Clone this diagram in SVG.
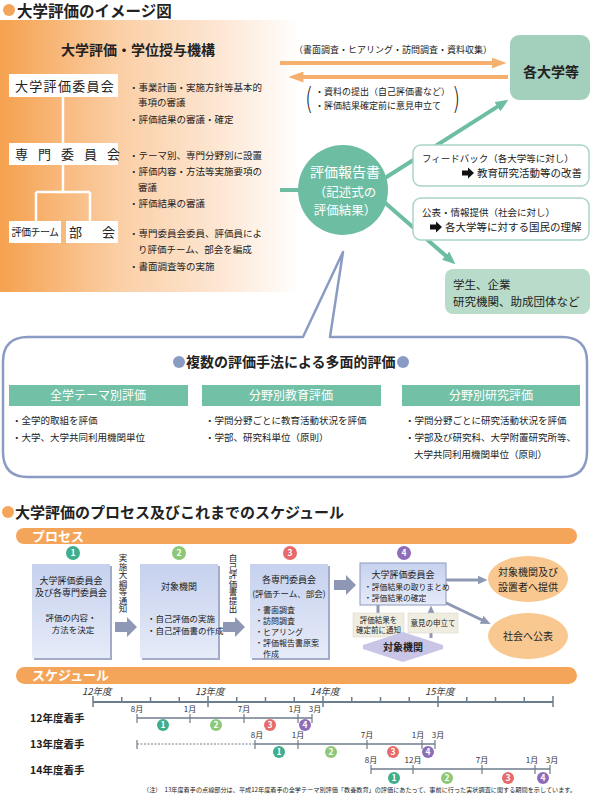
<svg xmlns="http://www.w3.org/2000/svg" width="590" height="798" viewBox="0 0 590 798">
<defs>
<style>
text{font-family:"Noto Sans CJK JP","Noto Sans CJK SC",sans-serif;fill:#222}
.b{font-weight:bold}
.t9{font-size:9.5px}
.w{fill:#fff}
.mid{text-anchor:middle}
.wbox{fill:#fff}
.fb{fill:#fff;stroke:#a9d5c2;stroke-width:1.5}
.teal{stroke:#6dbda2;stroke-width:4;fill:none}
.oarr{stroke:#f5b06e;stroke-width:4;fill:none}
.garr{stroke:#8e98b4;stroke-width:3;fill:none}
.pbox{fill:url(#bg)}
.shd{fill:#a2abc8}
.ax{stroke:#6e7d8c;fill:none}
.ps{font-size:8.5px}
.mo{font-size:8px;text-anchor:middle;fill:#333}
.yr{font-size:9.5px;font-style:italic;fill:#333}
.num{font-size:8.5px;font-weight:bold;fill:#fff;text-anchor:middle}
.c1{fill:#3fae8c}.c2{fill:#8cc878}.c3{fill:#e86a6a}.c4{fill:#8e6cb8}
.bar{fill:#72c0a6}
.beige{fill:#efece0;stroke:#d8d4c4;stroke-width:0.5}
.vt{font-size:8.5px;writing-mode:vertical-rl;text-orientation:upright}
</style>
<linearGradient id="og" x1="0" y1="0" x2="1" y2="0">
<stop offset="0" stop-color="#f5a14f"/>
<stop offset="0.4" stop-color="#fbcfa6"/>
<stop offset="0.75" stop-color="#fde8d6"/>
<stop offset="1" stop-color="#ffffff"/>
</linearGradient>
<linearGradient id="bg" x1="0" y1="0" x2="0" y2="1">
<stop offset="0" stop-color="#c6d1ee"/>
<stop offset="1" stop-color="#e6ebf8"/>
</linearGradient>
<marker id="mo" markerWidth="15" markerHeight="11" refX="0.5" refY="5.5" orient="auto" markerUnits="userSpaceOnUse"><path d="M0,0 L15,5.5 L0,11 z" fill="#f5b06e"/></marker>
<marker id="mt" markerWidth="13" markerHeight="11" refX="0.5" refY="5.5" orient="auto" markerUnits="userSpaceOnUse"><path d="M0,0 L13,5.5 L0,11 z" fill="#6dbda2"/></marker>
<marker id="mg" markerWidth="10" markerHeight="9" refX="0.5" refY="4.5" orient="auto" markerUnits="userSpaceOnUse"><path d="M0,0 L10,4.5 L0,9 z" fill="#8e98b4"/></marker>
<path id="barr" d="M0,-2.5 L6,-2.5 L6,-5.5 L12,0 L6,5.5 L6,2.5 L0,2.5 Z" fill="#111"/>
<path id="blk" d="M0,-5 L12,-5 L12,-10 L22,0 L12,10 L12,5 L0,5 Z" fill="#8e98b4"/>
</defs>

<rect width="590" height="798" fill="#fff"/>

<g id="title1">
<circle cx="9" cy="10" r="6" fill="#f5a55a"/>
<text x="17" y="17" class="b" font-size="15.5">大学評価のイメージ図</text>
</g>

<g id="panel">
<rect x="0" y="20" width="300" height="272" fill="url(#og)"/>
<text x="138" y="55" class="b mid" font-size="14">大学評価・学位授与機構</text>
</g>

<g id="org-lines" stroke="#fff" stroke-width="2.5" fill="none">
<path d="M63,97 V143 M63,165 V192 M36,192 H90 M36,192 V221 M90,192 V221"/>
</g>

<g id="n-iinkai">
<rect x="9" y="74" width="109" height="23" class="wbox"/>
<text x="15" y="91" font-size="13" letter-spacing="1.3">大学評価委員会</text>
</g>
<g id="n-senmon">
<rect x="9" y="143" width="109" height="22" class="wbox"/>
<text x="15" y="159" font-size="13" letter-spacing="10">専門委員会</text>
</g>
<g id="n-team">
<rect x="9" y="221" width="52" height="22" class="wbox"/>
<text x="35" y="236" font-size="10" class="mid" letter-spacing="-0.5">評価チーム</text>
</g>
<g id="n-bukai">
<rect x="66" y="221" width="52" height="22" class="wbox"/>
<text x="69" y="237" font-size="13">部</text>
<text x="102" y="237" font-size="13">会</text>
</g>

<g id="org-text">
<text x="129" y="91" class="t9">・事業計画・実施方針等基本的</text>
<text x="138" y="106" class="t9">事項の審議</text>
<text x="129" y="123" class="t9">・評価結果の審議・確定</text>
<text x="129" y="159" class="t9">・テーマ別、専門分野別に設置</text>
<text x="129" y="175" class="t9">・評価内容・方法等実施要項の</text>
<text x="138" y="191" class="t9">審議</text>
<text x="129" y="207" class="t9">・評価結果の審議</text>
<text x="129" y="237" class="t9">・専門委員会委員、評価員によ</text>
<text x="138" y="253" class="t9">り評価チーム、部会を編成</text>
<text x="129" y="270" class="t9">・書面調査等の実施</text>
</g>

<g id="connectors-top">
<line x1="280" y1="63" x2="492" y2="63" class="oarr" marker-end="url(#mo)"/>
<line x1="508" y1="77" x2="303" y2="77" class="oarr" marker-end="url(#mo)"/>
<line x1="280" y1="190" x2="305" y2="190" class="teal"/>
<line x1="385" y1="178" x2="497.9" y2="106.4" class="teal" marker-end="url(#mt)"/>
<line x1="383" y1="201" x2="446" y2="256" class="teal" marker-end="url(#mt)"/>
</g>

<g id="arrow-labels">
<text x="393" y="53" font-size="9" class="mid">（書面調査・ヒアリング・訪問調査・資料収集）</text>
<text x="305" y="109" font-size="30" style="font-family:'DejaVu Sans',sans-serif;font-weight:200" fill="#444" transform="translate(305,109) scale(0.7,1) translate(-305,-109)">(</text>
<text x="315" y="95" font-size="9">・資料の提出（自己評価書など）</text>
<text x="315" y="109" font-size="9">・評価結果確定前に意見申立て</text>
<text x="452" y="109" font-size="30" style="font-family:'DejaVu Sans',sans-serif;font-weight:200" fill="#444" transform="translate(452,109) scale(0.7,1) translate(-452,-109)">)</text>
</g>

<g id="n-kakudaigaku">
<rect x="510" y="35" width="80" height="65" rx="9" fill="#a3d0bc"/>
<text x="551" y="77" class="b mid" font-size="14">各大学等</text>
</g>

<g id="n-feedback">
<rect x="413" y="145" width="176" height="41" rx="8" class="fb"/>
<text x="422" y="162" font-size="9.5">フィードバック（各大学等に対し）</text>
<use href="#barr" x="462" y="173"/>
<text x="477" y="177" font-size="10.5">教育研究活動等の改善</text>
</g>

<g id="n-kohyo">
<rect x="413" y="198" width="176" height="42" rx="8" class="fb"/>
<text x="422" y="216" font-size="9.5">公表・情報提供（社会に対し）</text>
<use href="#barr" x="430" y="227"/>
<text x="445" y="231" font-size="10.5">各大学等に対する国民の理解</text>
</g>

<g id="n-gakusei">
<rect x="445" y="269" width="145" height="45" rx="8" fill="#b8dcc9"/>
<text x="453" y="289" font-size="11.5">学生、企業</text>
<text x="453" y="306" font-size="11.5">研究機関、助成団体など</text>
</g>

<g id="n-hokokusho">
<circle cx="343" cy="190" r="45" fill="#6dbda2"/>
<text x="345" y="177" class="w mid" font-size="14">評価報告書</text>
<text x="345" y="197" class="w mid" font-size="12.5">（記述式の</text>
<text x="345" y="215" class="w mid" font-size="12.5">評価結果）</text>
</g>

<g id="n-bubble">
<path d="M28,337 L303,337 L343,252 L330,337 L562,337 Q587,337 587,362 L587,452 Q587,477 562,477 L28,477 Q3,477 3,452 L3,362 Q3,337 28,337 Z" fill="#fff" stroke="#8b9cc4" stroke-width="2.5" stroke-linejoin="round"/>
<circle cx="179" cy="362" r="6" fill="#8b9cc4"/>
<text x="186" y="367" class="b" font-size="14">複数の評価手法による多面的評価</text>
<circle cx="403" cy="362" r="6" fill="#8b9cc4"/>
</g>

<g id="n-col1">
<rect x="9" y="385" width="179" height="21" class="bar"/>
<text x="98" y="400" class="w mid" font-size="12">全学テーマ別評価</text>
<text x="12" y="424" class="t9">・全学的取組を評価</text>
<text x="12" y="441" class="t9">・大学、大学共同利用機関単位</text>
</g>
<g id="n-col2">
<rect x="202" y="385" width="179" height="21" class="bar"/>
<text x="291" y="400" class="w mid" font-size="12">分野別教育評価</text>
<text x="205" y="424" class="t9">・学問分野ごとに教育活動状況を評価</text>
<text x="205" y="441" class="t9">・学部、研究科単位（原則）</text>
</g>
<g id="n-col3">
<rect x="402" y="385" width="178" height="21" class="bar"/>
<text x="491" y="400" class="w mid" font-size="12">分野別研究評価</text>
<text x="405" y="424" class="t9">・学問分野ごとに研究活動状況を評価</text>
<text x="405" y="441" class="t9">・学部及び研究科、大学附置研究所等、</text>
<text x="414" y="458" class="t9">大学共同利用機関単位（原則）</text>
</g>

<g id="title2">
<circle cx="8" cy="512" r="6" fill="#f5a55a"/>
<text x="15" y="518" class="b" font-size="15">大学評価のプロセス及びこれまでのスケジュール</text>
</g>

<g id="bar-process">
<rect x="16" y="528" width="561" height="16" rx="8" fill="#f5a55a"/>
<text x="32" y="541" class="b w" font-size="13">プロセス</text>
</g>

<g id="step-nums">
<circle cx="73" cy="553" r="7" class="c1"/><text x="73" y="556.3" class="num">1</text>
<circle cx="179" cy="553" r="7" class="c2"/><text x="179" y="556.3" class="num">2</text>
<circle cx="290" cy="553" r="7" class="c3"/><text x="290" y="556.3" class="num">3</text>
<circle cx="404" cy="553" r="7" class="c4"/><text x="404" y="556.3" class="num">4</text>
</g>

<g id="p-box1">
<rect x="34" y="566" width="78" height="94" class="shd"/>
<rect x="32" y="564" width="78" height="94" class="pbox"/>
<text x="71" y="584" class="mid" font-size="9">大学評価委員会</text>
<text x="71" y="596" class="mid" font-size="9">及び各専門委員会</text>
<text x="71" y="621" class="mid ps">評価の内容・</text>
<text x="73" y="633" class="mid ps">方法を決定</text>
</g>
<g id="p-box2">
<rect x="142" y="566" width="78" height="94" class="shd"/>
<rect x="140" y="564" width="78" height="94" class="pbox"/>
<text x="179" y="590" class="mid" font-size="9">対象機関</text>
<text x="147" y="622" class="ps">・自己評価の実施</text>
<text x="147" y="634" class="ps">・自己評価書の作成</text>
</g>
<g id="p-box3">
<rect x="252" y="566" width="78" height="94" class="shd"/>
<rect x="250" y="564" width="78" height="94" class="pbox"/>
<text x="289" y="583" class="mid" font-size="9">各専門委員会</text>
<text x="289" y="597" class="mid" font-size="8.5">(評価チーム、部会)</text>
<text x="255" y="613" font-size="8">・書面調査</text>
<text x="255" y="624" font-size="8">・訪問調査</text>
<text x="255" y="635" font-size="8">・ヒアリング</text>
<text x="255" y="646" font-size="8">・評価報告書原案</text>
<text x="263" y="657" font-size="8">作成</text>
</g>

<g id="p-labels">
<text x="123" y="554" class="vt">実施大綱等通知</text>
<text x="233" y="554" class="vt">自己評価書提出</text>
</g>

<g id="p-connectors">
<use href="#blk" x="115" y="627"/>
<use href="#blk" x="223" y="627"/>
<use href="#blk" x="334" y="585"/>
<line x1="378" y1="605" x2="378" y2="628" class="garr" marker-end="url(#mg)"/>
<line x1="431" y1="638" x2="431" y2="615" class="garr" marker-end="url(#mg)"/>
<line x1="446" y1="580" x2="478" y2="580" class="garr" stroke-width="3.5" marker-end="url(#mg)"/>
<line x1="440" y1="600" x2="482" y2="620" class="garr" stroke-width="3.5" marker-end="url(#mg)"/>
</g>

<g id="p-box4">
<rect x="360" y="563" width="86" height="42" fill="url(#bg)" stroke="#8d99bf" stroke-width="1"/>
<text x="403" y="578" class="mid" font-size="9">大学評価委員会</text>
<text x="364" y="590" font-size="7.8">・評価結果の取りまとめ</text>
<text x="364" y="601" font-size="7.8">・評価結果の確定</text>
</g>

<g id="p-notice">
<rect x="353" y="613" width="51" height="24" class="beige"/>
<text x="378.5" y="623" class="mid" font-size="7.5" fill="#444">評価結果を</text>
<text x="378.5" y="633" class="mid" font-size="7.5" fill="#444">確定前に通知</text>
</g>
<g id="p-moushitate">
<rect x="408" y="613" width="50" height="20" class="beige"/>
<text x="433" y="626" class="mid" font-size="7.5" fill="#444">意見の申立て</text>
</g>

<g id="p-taisho">
<polygon points="403,632 443,645 443,649 403,662 363,649 363,645" fill="#c9c5e6"/>
<text x="403" y="651" class="b mid" font-size="10">対象機関</text>
</g>

<g id="p-teikyo">
<ellipse cx="528" cy="579" rx="40" ry="23" fill="#f9c890"/>
<text x="528" y="576" class="mid" font-size="10">対象機関及び</text>
<text x="528" y="591" class="mid" font-size="10">設置者へ提供</text>
</g>
<g id="p-kohyo">
<ellipse cx="528" cy="636" rx="40" ry="23" fill="#f9c890"/>
<text x="528" y="640" class="mid" font-size="10">社会へ公表</text>
</g>

<g id="bar-schedule">
<rect x="16" y="667" width="561" height="17" rx="8.5" fill="#f5a55a"/>
<text x="32" y="680" class="b w" font-size="13">スケジュール</text>
</g>

<g id="axis">
<line x1="93" y1="702" x2="553" y2="702" class="ax" stroke-width="2"/>
<path class="ax" stroke-width="1.5" d="M93,696V707 M208,696V707 M323,696V707 M438,696V707 M553,696V707 M121.75,697V702 M150.5,697V702 M179.25,697V702 M236.75,697V702 M265.5,697V702 M294.25,697V702 M351.75,697V702 M380.5,697V702 M409.25,697V702 M466.75,697V702 M495.5,697V702 M524.25,697V702"/>
<text x="82" y="695" class="yr">12年度</text>
<text x="195" y="695" class="yr">13年度</text>
<text x="310" y="695" class="yr">14年度</text>
<text x="425" y="695" class="yr">15年度</text>
</g>

<g id="row12">
<text x="30" y="722" class="b" font-size="10.5">12年度着手</text>
<line x1="137" y1="718" x2="312" y2="718" class="ax" stroke-width="1.5"/>
<path class="ax" stroke-width="1.2" d="M137,714V723 M190,714V723 M244,714V723 M298,714V723 M312,714V723"/>
<text x="137" y="712" class="mo">8月</text>
<text x="190" y="712" class="mo">1月</text>
<text x="244" y="712" class="mo">7月</text>
<text x="295" y="712" class="mo">1月</text>
<text x="315" y="712" class="mo">3月</text>
<circle cx="163" cy="725" r="6" class="c1"/><text x="163" y="728" class="num">1</text>
<circle cx="216" cy="725" r="6" class="c2"/><text x="216" y="728" class="num">2</text>
<circle cx="270" cy="725" r="6" class="c3"/><text x="270" y="728" class="num">3</text>
<circle cx="305" cy="725" r="6" class="c4"/><text x="305" y="728" class="num">4</text>
</g>

<g id="row13">
<text x="30" y="748" class="b" font-size="10.5">13年度着手</text>
<line x1="137" y1="744" x2="255" y2="744" class="ax" stroke-width="1" stroke-dasharray="2,1.5"/>
<line x1="255" y1="744" x2="435" y2="744" class="ax" stroke-width="1.5"/>
<path class="ax" stroke-width="1.2" d="M137,740V749 M255,740V749 M298,740V749 M367,740V749 M422,740V749 M435,740V749"/>
<text x="257" y="738" class="mo">8月</text>
<text x="298" y="738" class="mo">1月</text>
<text x="367" y="738" class="mo">7月</text>
<text x="418" y="738" class="mo">1月</text>
<text x="438" y="738" class="mo">3月</text>
<circle cx="279" cy="752" r="6" class="c1"/><text x="279" y="755" class="num">1</text>
<circle cx="331" cy="752" r="6" class="c2"/><text x="331" y="755" class="num">2</text>
<circle cx="393" cy="752" r="6" class="c3"/><text x="393" y="755" class="num">3</text>
<circle cx="428" cy="752" r="6" class="c4"/><text x="428" y="755" class="num">4</text>
</g>

<g id="row14">
<text x="30" y="774" class="b" font-size="10.5">14年度着手</text>
<line x1="371" y1="769" x2="550" y2="769" class="ax" stroke-width="1.5"/>
<path class="ax" stroke-width="1.2" d="M371,765V774 M413,765V774 M482,765V774 M535,765V774 M550,765V774"/>
<text x="371" y="763" class="mo">8月</text>
<text x="413" y="763" class="mo">12月</text>
<text x="482" y="763" class="mo">7月</text>
<text x="532" y="763" class="mo">1月</text>
<text x="552" y="763" class="mo">3月</text>
<circle cx="394" cy="778" r="6" class="c1"/><text x="394" y="781" class="num">1</text>
<circle cx="447" cy="778" r="6" class="c2"/><text x="447" y="781" class="num">2</text>
<circle cx="508" cy="778" r="6" class="c3"/><text x="508" y="781" class="num">3</text>
<circle cx="543" cy="778" r="6" class="c4"/><text x="543" y="781" class="num">4</text>
</g>

<g id="footnote">
<text x="143" y="792" font-size="6" fill="#444" textLength="433" lengthAdjust="spacingAndGlyphs">（注）　13年度着手の点線部分は、平成12年度着手の全学テーマ別評価「教養教育」の評価にあたって、事前に行った実状調査に関する期間を示しています。</text>
</g>
</svg>
